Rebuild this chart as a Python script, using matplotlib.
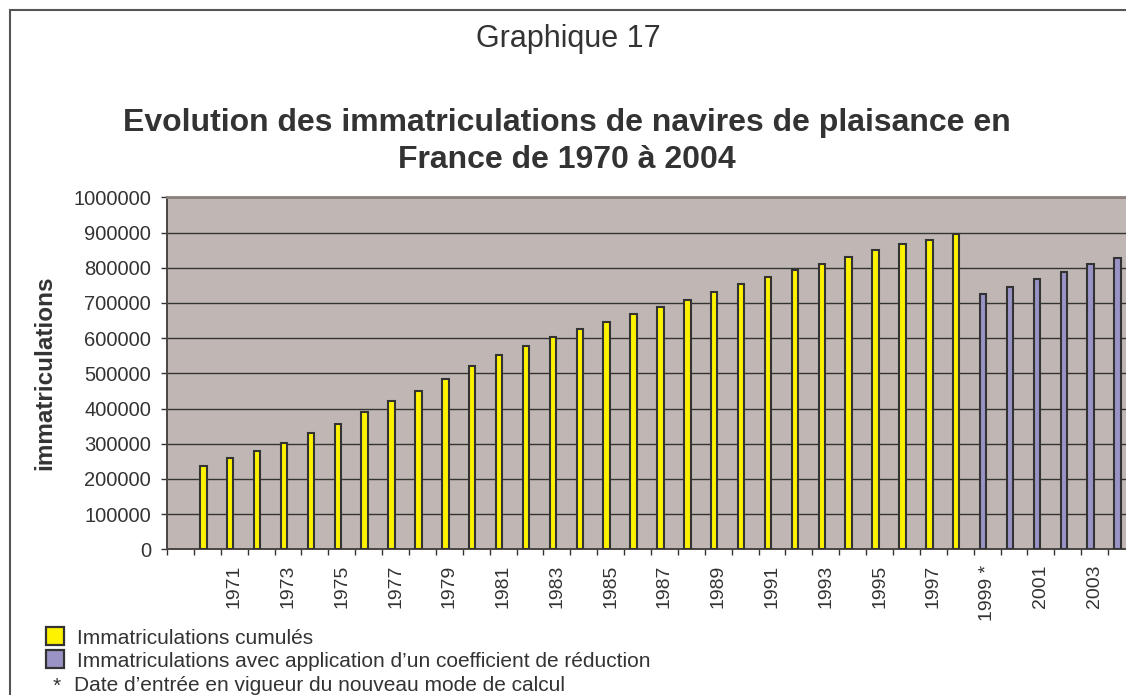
import numpy as np
import matplotlib.pyplot as plt
from matplotlib.patches import Rectangle

plt.rcParams['font.family'] = ['Liberation Sans', 'DejaVu Sans']

# cumulative registrations (old counting method)
years_old = [str(y) for y in range(1970, 1999)]
vals_old = [237000, 258000, 279000, 303000, 329000, 355000, 389000, 420000,
            450000, 485000, 520000, 551000, 577000, 604000, 626000, 647000,
            668000, 688000, 709000, 731000, 753000, 774000, 793000, 810000,
            829000, 849000, 866000, 878000, 896000]

# registrations with reduction coefficient (new method from 1999)
years_new = ["1999 *", "2000", "2001", "2002", "2003", "2004"]
vals_new = [724000, 746000, 767000, 788000, 810000, 827000]

categories = [""] + years_old + years_new

W, H = 1126, 695
fig = plt.figure(figsize=(W / 100, H / 100), dpi=100)

txt = "#333333"
left, right = 167 / W, 1135 / W
bottom, top = (H - 549.3) / H, (H - 197.3) / H
ax = fig.add_axes([left, bottom, right - left, top - bottom])
ax.set_facecolor("#c0b7b4")

x = np.arange(len(categories))
x_old = x[1:1 + len(vals_old)]
x_new = x[1 + len(vals_old):]
off = -0.15
ax.bar(x_old + off, vals_old, width=0.24, color="#fff200",
       edgecolor="#333333", linewidth=1.5, zorder=3)
ax.bar(x_new + off, vals_new, width=0.24, color="#9a94c6",
       edgecolor="#333333", linewidth=1.5, zorder=3)

ax.set_xlim(-0.5, len(categories) - 0.5)
ax.set_ylim(0, 1000000)
ax.set_yticks(np.arange(0, 1000001, 100000))
ax.set_yticklabels([str(v) for v in range(0, 1000001, 100000)],
                   fontsize=14.5, color=txt)
ax.yaxis.grid(True, color="#333333", linewidth=1.0, zorder=1)
ax.set_axisbelow(True)

# category boundaries as ticks, every other year labelled
ax.set_xticks(np.arange(-0.5, len(categories) + 0.5, 1.0))
ax.set_xticklabels([])
ax.set_xticks(x[::2], minor=True)
ax.set_xticklabels(categories[::2], minor=True, rotation=90,
                   fontsize=14, color=txt)
ax.tick_params(axis="x", which="major", length=4.5, color="#333333", width=1)
ax.tick_params(axis="x", which="minor", length=0, pad=11)
ax.tick_params(axis="y", length=4.5, color="#333333", width=1, pad=7)

for s in ["left", "bottom"]:
    ax.spines[s].set_color("#4a4442")
    ax.spines[s].set_linewidth(1.4)
ax.spines["top"].set_color("#8c817d")
ax.spines["top"].set_linewidth(2)
ax.spines["right"].set_visible(False)

fig.text(45 / W, 1 - 373 / H, "immatriculations", fontsize=17.5,
         fontweight="bold", color=txt, rotation=90, ha="center", va="center")

fig.text(568 / W, 1 - 47 / H, "Graphique 17", fontsize=22, color=txt,
         ha="center", va="baseline")
fig.text(567 / W, 1 - 131 / H,
         "Evolution des immatriculations de navires de plaisance en",
         fontsize=23, fontweight="bold", color=txt, ha="center",
         va="baseline")
fig.text(567 / W, 1 - 168 / H, "France de 1970 à 2004",
         fontsize=23, fontweight="bold", color=txt, ha="center",
         va="baseline")

# legend drawn by hand below the axis
sq = 18
for i, (col, label) in enumerate([
        ("#fff200", "Immatriculations cumulés"),
        ("#9a94c6", "Immatriculations avec application d\u2019un coefficient de réduction")]):
    yc = 636 + i * 23
    fig.patches.append(Rectangle((46 / W, 1 - (yc + sq / 2) / H), sq / W, sq / H,
                                 transform=fig.transFigure, facecolor=col,
                                 edgecolor="#333333", linewidth=1.6))
    fig.text(77 / W, 1 - (yc + 8) / H, label, fontsize=15, color=txt,
             ha="left", va="baseline")
fig.text(57 / W, 1 - 692 / H, "*", fontsize=15, color=txt,
         ha="center", va="baseline")
fig.text(74 / W, 1 - 691 / H, "Date d\u2019entrée en vigueur du nouveau mode de calcul",
         fontsize=15, color=txt, ha="left", va="baseline")

# outer frame
fig.patches.append(Rectangle((9.5 / W, -0.5), 2, 1.5 - 10 / H,
                             transform=fig.transFigure, fill=False,
                             edgecolor="#555555", linewidth=1.5))

fig.savefig("out.png", dpi=100)
